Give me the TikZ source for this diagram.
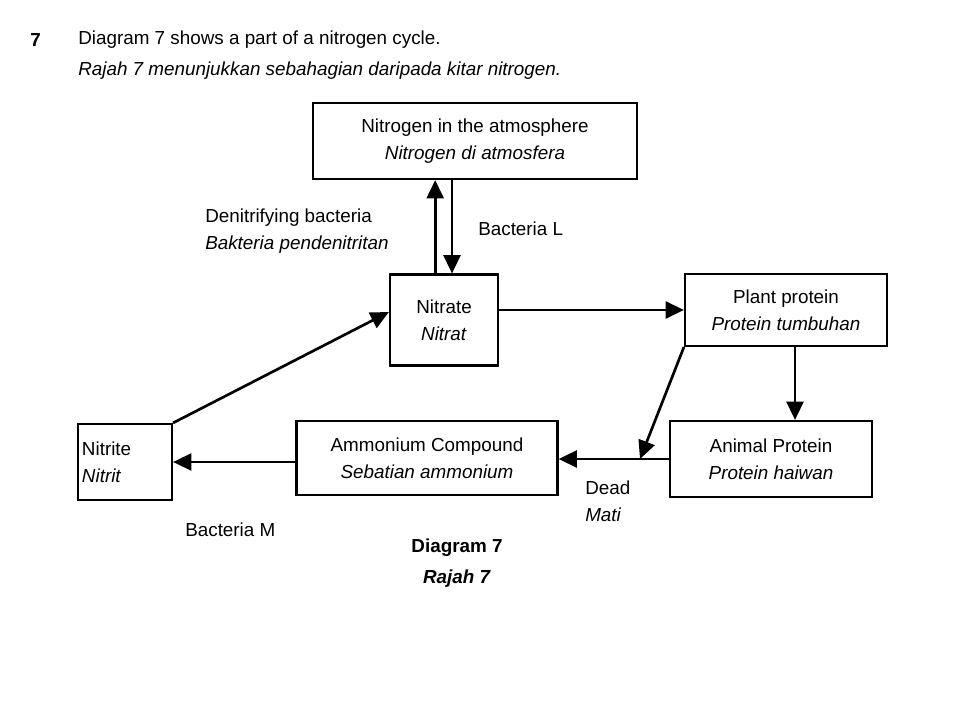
\documentclass[tikz,border=0pt]{standalone}
\usepackage{fontspec}
\setmainfont{Liberation Sans}
\usepackage{tikz}
\usetikzlibrary{arrows.meta, positioning, calc}

\begin{document}
\begin{tikzpicture}[
    x=0.025cm, y=-0.025cm,
    every node/.style={font=\fontsize{13.4}{19}\selectfont},
    stage/.style={draw, line width=1.5pt, align=center, inner sep=2pt},
    flow/.style={line width=1.9pt, -{Triangle[length=13pt, width=12pt]}},
    note/.style={align=left, anchor=west, inner sep=0pt}
]
    \useasboundingbox (0,0) rectangle (960,720);

    % question text
    \node[note, font=\fontsize{13.4}{19}\selectfont\bfseries] (qnum) at (30,40) {7};
    \node[note] (qtext) at (78,55) {Diagram 7 shows a part of a nitrogen cycle.\\[3pt]
        \textit{Rajah 7 menunjukkan sebahagian daripada kitar nitrogen.}};

    % boxes
    \node[stage, minimum width=8.1cm, minimum height=1.9cm] (atmos) at (475,141) {
        Nitrogen in the atmosphere\\ \textit{Nitrogen di atmosfera}
    };
    \node[stage, minimum width=2.7cm, minimum height=2.275cm] (nitrate) at (444,320) {
        Nitrate\\ \textit{Nitrat}
    };
    \node[stage, minimum width=5.05cm, minimum height=1.8cm] (plant) at (786,310) {
        Plant protein\\ \textit{Protein tumbuhan}
    };
    \node[stage, minimum width=5.05cm, minimum height=1.9cm] (animal) at (771,459) {
        Animal Protein\\ \textit{Protein haiwan}
    };
    \node[stage, minimum width=6.525cm, minimum height=1.85cm] (ammonium) at (427,458) {
        Ammonium Compound\\ \textit{Sebatian ammonium}
    };
    \node[stage, minimum height=1.9cm, text width=2.15cm, align=left, inner xsep=0.1cm] (nitrite) at (125,462) {
        Nitrite\\ \textit{Nitrit}
    };

    % connectors
    \coordinate (dead) at (640,459);
    \draw[flow] ([xshift=-0.22cm]nitrate.north) -- ([xshift=-0.22cm]nitrate.north |- atmos.south);
    \draw[flow] ([xshift=0.2cm]atmos.south -| nitrate.north) -- ([xshift=0.2cm]nitrate.north);
    \draw[flow] (nitrate.east |- plant.west) -- (plant.west);
    \draw[flow] ([xshift=0.225cm]plant.south) -- ([xshift=0.225cm]plant.south |- animal.north);
    \draw[flow] (plant.south west) -- (dead);
    \draw[flow] (animal.west) -- (animal.west -| ammonium.east);
    \draw[flow] (ammonium.west |- nitrite.east) -- (nitrite.east);
    \draw[flow] (nitrite.north east) -- ([yshift=0.2cm]nitrate.west);

    % labels
    \node[note] (denit) at (205,231) {Denitrifying bacteria\\ \textit{Bakteria pendenitritan}};
    \node[note] (bactL) at (478,229) {Bacteria L};
    \node[note] (deadlbl) at (585,501) {Dead\\ \textit{Mati}};
    \node[note] (bactM) at (185,530) {Bacteria M};
    \node[align=center, font=\fontsize{13.4}{22}\selectfont\bfseries] (caption) at (457,563) {Diagram 7\\ \textit{Rajah 7}};
\end{tikzpicture}
\end{document}
